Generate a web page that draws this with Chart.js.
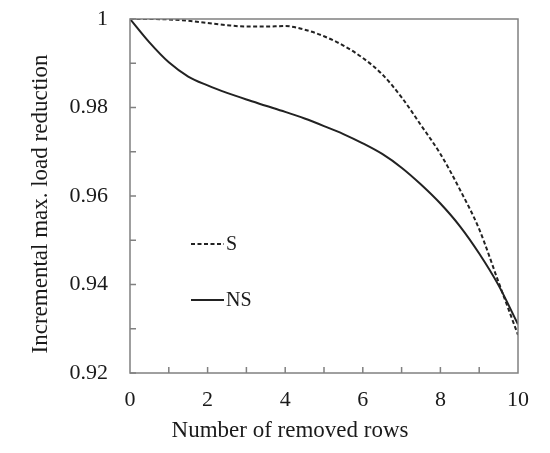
<!DOCTYPE html>
<html>
<head>
<meta charset="utf-8">
<script src="https://cdn.jsdelivr.net/npm/chart.js@4/dist/chart.umd.min.js"></script>
<style>
    body { margin: 0; background: #fff; }
    #wrap { width: 550px; height: 453px; }
</style>
</head>
<body>
<div id="wrap"><canvas id="myChart" width="550" height="453"></canvas></div>
<script>
// data, x = number of removed rows
const removedRows = [0, 0.5, 1, 1.5, 2, 2.5, 3, 3.5, 4, 4.5, 5, 5.5, 6, 6.5, 7, 7.5, 8, 8.5, 9, 9.5, 10];
const sValues = [1.0000, 1.0000, 0.9999, 0.9996, 0.9991, 0.9986, 0.9983, 0.9983, 0.9984, 0.9976, 0.9961,
    0.9940, 0.9912, 0.9875, 0.9823, 0.9760, 0.9695, 0.9615, 0.9525, 0.9405, 0.9286];
const nsValues = [1.0000, 0.9947, 0.9902, 0.9870, 0.9850, 0.9833, 0.9818, 0.9804, 0.9790, 0.9775, 0.9758,
    0.9740, 0.9719, 0.9695, 0.9664, 0.9626, 0.9583, 0.9532, 0.9470, 0.9398, 0.9310];
const seriesNames = ["S", "NS"];
const xTitle = "Number of removed rows";
const yTitle = "Incremental max. load reduction";

const axisColor = "#808080";
const serif = "'Liberation Serif', 'Times New Roman', serif";

function toPoints(vals) {
    return vals.map(function (v, i) { return { x: removedRows[i], y: v }; });
}

// frame, inward ticks, titles and the little legend inside the plot
const framePlugin = {
    id: "frame",
    afterDraw(chart) {
        const ctx = chart.ctx;
        const a = chart.chartArea;
        const xs = chart.scales.x;
        const ys = chart.scales.y;
        ctx.save();
        ctx.strokeStyle = axisColor;
        ctx.lineWidth = 1.5;
        ctx.strokeRect(a.left, a.top, a.right - a.left, a.bottom - a.top);
        ctx.beginPath();
        xs.ticks.forEach(function (t) {
            const px = xs.getPixelForValue(t.value);
            if (t.value > 0 && t.value < 10) {
                ctx.moveTo(px, a.bottom);
                ctx.lineTo(px, a.bottom - 6);
            }
        });
        ys.ticks.forEach(function (t) {
            const py = ys.getPixelForValue(t.value);
            ctx.moveTo(a.left, py);
            ctx.lineTo(a.left + 6, py);
        });
        ctx.stroke();

        // axis titles
        ctx.fillStyle = "#1a1a1a";
        ctx.font = "23px " + serif;
        ctx.textAlign = "center";
        ctx.textBaseline = "alphabetic";
        ctx.fillText(xTitle, 290, 437);
        ctx.translate(47, 204);
        ctx.rotate(-Math.PI / 2);
        ctx.fillText(yTitle, 0, 0);
        ctx.restore();

        // legend
        ctx.save();
        ctx.font = "20px " + serif;
        ctx.textBaseline = "middle";
        ctx.textAlign = "left";
        const rowsY = [244, 300];
        chart.data.datasets.forEach(function (ds, i) {
            ctx.strokeStyle = ds.borderColor;
            ctx.lineWidth = 2;
            ctx.setLineDash(ds.borderDash || []);
            ctx.beginPath();
            ctx.moveTo(a.left + 61, rowsY[i]);
            ctx.lineTo(a.left + 94, rowsY[i]);
            ctx.stroke();
            ctx.setLineDash([]);
            ctx.fillStyle = "#1a1a1a";
            ctx.fillText(ds.label, a.left + 96, rowsY[i] + 1);
        });
        ctx.restore();
    }
};

new Chart(document.getElementById("myChart").getContext("2d"), {
    type: "line",
    data: {
        datasets: [
            {
                label: seriesNames[0],
                data: toPoints(sValues),
                borderColor: "#222",
                borderWidth: 2,
                borderDash: [4, 2.5],
                pointRadius: 0,
                cubicInterpolationMode: "monotone"
            },
            {
                label: seriesNames[1],
                data: toPoints(nsValues),
                borderColor: "#222",
                borderWidth: 2,
                pointRadius: 0,
                cubicInterpolationMode: "monotone"
            }
        ]
    },
    options: {
        responsive: false,
        animation: false,
        layout: { padding: { top: 19, right: 32, left: 0, bottom: 0 } },
        plugins: { legend: { display: false }, tooltip: { enabled: false } },
        scales: {
            x: {
                type: "linear",
                min: 0,
                max: 10,
                grid: { display: false, drawTicks: false },
                border: { display: false },
                ticks: {
                    stepSize: 1,
                    autoSkip: false,
                    maxRotation: 0,
                    padding: 14,
                    color: "#1a1a1a",
                    font: { family: serif, size: 22 },
                    callback: function (v) { return v % 2 === 0 ? String(v) : ""; }
                },
                afterFit: function (scale) {
                    scale.height = 80;
                    scale.paddingTop = 0;
                    scale.paddingBottom = 0;
                }
            },
            y: {
                min: 0.92,
                max: 1,
                grid: { display: false, drawTicks: false },
                border: { display: false },
                ticks: {
                    stepSize: 0.01,
                    autoSkip: false,
                    padding: 22,
                    color: "#1a1a1a",
                    font: { family: serif, size: 22 },
                    callback: function (v) {
                        const h = Math.round(v * 100);
                        if (h % 2 !== 0) return "";
                        return h === 100 ? "1" : (h / 100).toFixed(2);
                    }
                },
                afterFit: function (scale) {
                    scale.width = 130;
                    scale.paddingTop = 0;
                    scale.paddingBottom = 0;
                }
            }
        }
    },
    plugins: [framePlugin]
});
</script>
</body>
</html>
